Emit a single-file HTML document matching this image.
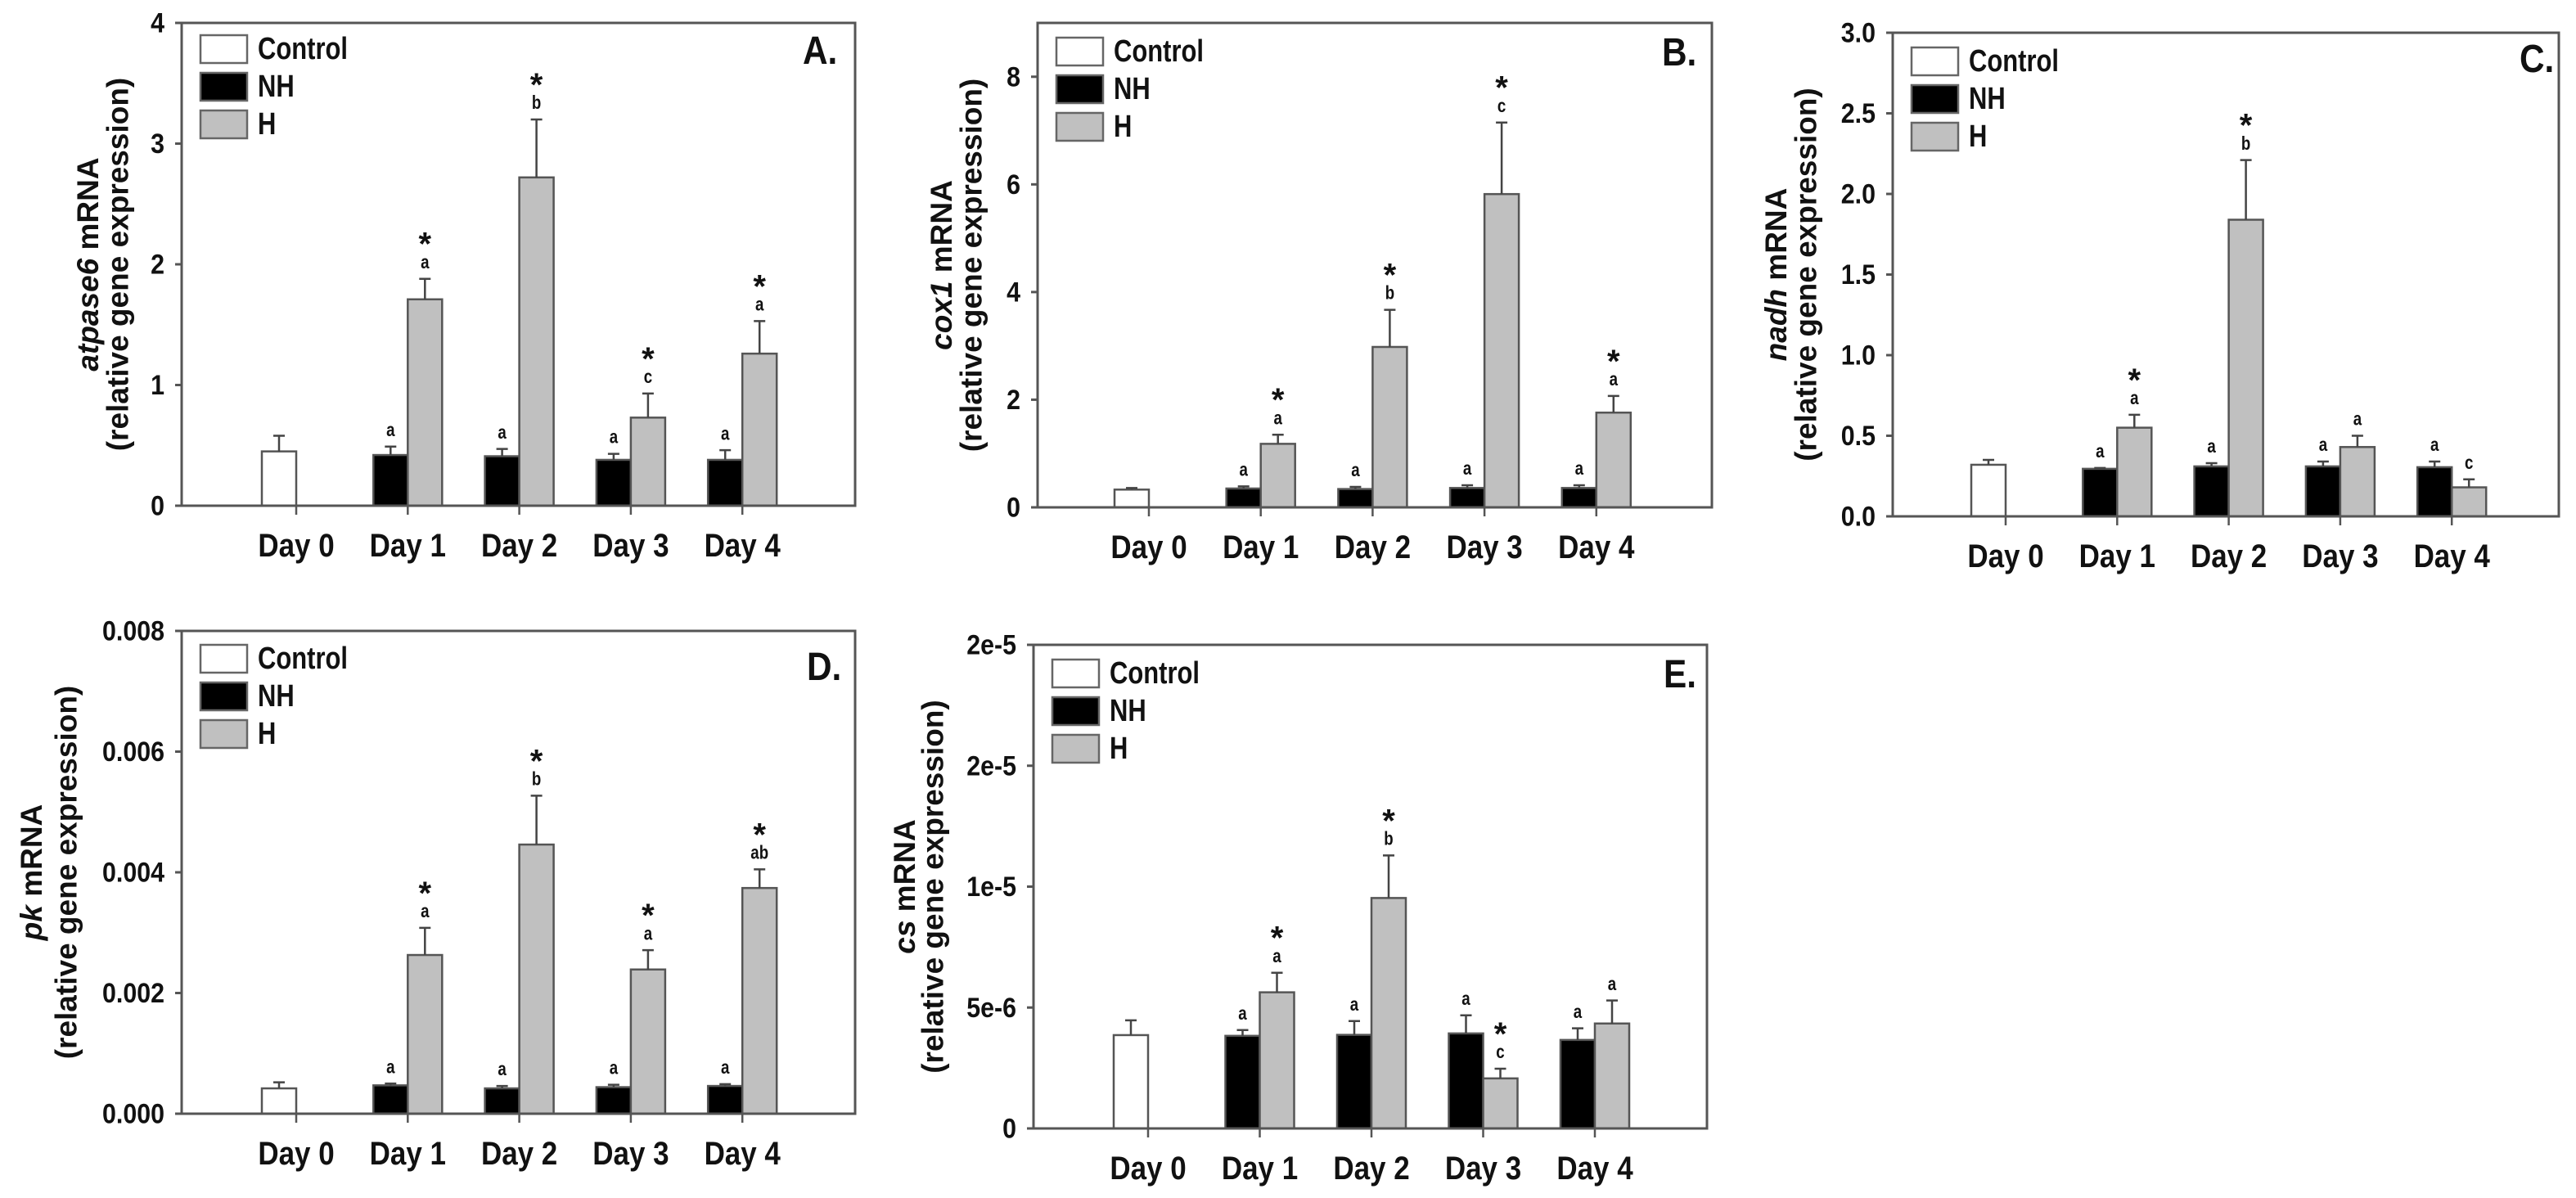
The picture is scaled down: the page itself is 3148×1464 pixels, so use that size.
<!DOCTYPE html>
<html><head><meta charset="utf-8">
<style>
html,body{margin:0;padding:0;background:#fff;}
svg{display:block;}
.nar{font-family:"Liberation Sans",sans-serif;font-weight:bold;}
.wide{font-family:"Liberation Sans",sans-serif;font-weight:bold;}
</style></head>
<body>
<svg id="fig" width="3148" height="1464" viewBox="0 0 3148 1464" xmlns="http://www.w3.org/2000/svg"></svg>
<script>
// ---- data ----
const categories = ["Day 0","Day 1","Day 2","Day 3","Day 4"];
const seriesNames = ["Control","NH","H"];

const aControl = 0.45, aControlErr = 0.58;
const aNH = [0.42,0.41,0.38,0.38], aNHErr = [0.49,0.47,0.43,0.46];
const aH = [1.71,2.72,0.73,1.26], aHErr = [1.88,3.2,0.93,1.53];
const aNHLab = ["a","a","a","a"], aHLab = ["a","b","c","a"], aHStar = [1,1,1,1];
const aTicks = [0,1,2,3,4], aTickLabels = ["0","1","2","3","4"];

const bControl = 0.33, bControlErr = 0.36;
const bNH = [0.35,0.34,0.36,0.36], bNHErr = [0.39,0.38,0.41,0.41];
const bH = [1.18,2.98,5.82,1.76], bHErr = [1.35,3.67,7.15,2.07];
const bNHLab = ["a","a","a","a"], bHLab = ["a","b","c","a"], bHStar = [1,1,1,1];
const bTicks = [0,2,4,6,8], bTickLabels = ["0","2","4","6","8"];

const cControl = 0.32, cControlErr = 0.35;
const cNH = [0.295,0.31,0.31,0.305], cNHErr = [0.30,0.33,0.34,0.34];
const cH = [0.55,1.84,0.43,0.18], cHErr = [0.63,2.21,0.50,0.23];
const cNHLab = ["a","a","a","a"], cHLab = ["a","b","a","c"], cHStar = [1,1,0,0];
const cTicks = [0,0.5,1,1.5,2,2.5,3], cTickLabels = ["0.0","0.5","1.0","1.5","2.0","2.5","3.0"];

const dControl = 0.00042, dControlErr = 0.00052;
const dNH = [0.00047,0.00042,0.00044,0.00046], dNHErr = [0.00050,0.00046,0.00048,0.00049];
const dH = [0.00263,0.00446,0.00239,0.00374], dHErr = [0.00308,0.00527,0.00271,0.00405];
const dNHLab = ["a","a","a","a"], dHLab = ["a","b","a","ab"], dHStar = [1,1,1,1];
const dTicks = [0,0.002,0.004,0.006,0.008], dTickLabels = ["0.000","0.002","0.004","0.006","0.008"];

const eControl = 3.86e-6, eControlErr = 4.47e-6;
const eNH = [3.83e-6,3.87e-6,3.93e-6,3.66e-6], eNHErr = [4.07e-6,4.44e-6,4.68e-6,4.14e-6];
const eH = [5.63e-6,9.53e-6,2.07e-6,4.34e-6], eHErr = [6.44e-6,11.29e-6,2.47e-6,5.29e-6];
const eNHLab = ["a","a","a","a"], eHLab = ["a","b","c","a"], eHStar = [1,1,1,0];
const eTicks = [0,5e-6,10e-6,15e-6,20e-6], eTickLabels = ["0","5e-6","1e-5","2e-5","2e-5"];

// ---- layout (positions, not data) ----
const panels = [
 {id:"a",letter:"A.",gene:"atpase6",left:222,right:1045,top:28,zero:618,ymax:4,cx0:362,step:136.3,t1:115,t2:78,lx:[981,78],
  ctl:aControl,ctlE:aControlErr,nh:aNH,nhE:aNHErr,h:aH,hE:aHErr,nhL:aNHLab,hL:aHLab,st:aHStar,ticks:aTicks,tl:aTickLabels,legTop:43},
 {id:"b",letter:"B.",gene:"cox1",left:1268,right:2092,top:28,zero:620,ymax:9,cx0:1404,step:136.7,t1:118,t2:81,lx:[2031,80],
  ctl:bControl,ctlE:bControlErr,nh:bNH,nhE:bNHErr,h:bH,hE:bHErr,nhL:bNHLab,hL:bHLab,st:bHStar,ticks:bTicks,tl:bTickLabels,legTop:46},
 {id:"c",letter:"C.",gene:"nadh",left:2313,right:3127,top:40,zero:631,ymax:3,cx0:2451,step:136.3,t1:143,t2:106,lx:[3079,88],
  ctl:cControl,ctlE:cControlErr,nh:cNH,nhE:cNHErr,h:cH,hE:cHErr,nhL:cNHLab,hL:cHLab,st:cHStar,ticks:cTicks,tl:cTickLabels,legTop:58},
 {id:"d",letter:"D.",gene:"pk",left:222,right:1045,top:771,zero:1361,ymax:0.008,cx0:362,step:136.3,t1:184,t2:141,lx:[986,831],
  ctl:dControl,ctlE:dControlErr,nh:dNH,nhE:dNHErr,h:dH,hE:dHErr,nhL:dNHLab,hL:dHLab,st:dHStar,ticks:dTicks,tl:dTickLabels,legTop:788},
 {id:"e",letter:"E.",gene:"cs",left:1263,right:2086,top:788,zero:1379,ymax:20e-6,cx0:1403,step:136.5,t1:158,t2:123,lx:[2033,840],
  ctl:eControl,ctlE:eControlErr,nh:eNH,nhE:eNHErr,h:eH,hE:eHErr,nhL:eNHLab,hL:eHLab,st:eHStar,ticks:eTicks,tl:eTickLabels,legTop:806}
];
const NS="http://www.w3.org/2000/svg";
const svg=document.getElementById('fig');
function mk(tag,attrs,parent){const e=document.createElementNS(NS,tag);for(const k in attrs)e.setAttribute(k,attrs[k]);(parent||svg).appendChild(e);return e;}
function ntext(x,y,sx,attrs,parent){attrs.x=0;attrs.y=0;attrs.transform=`translate(${x},${y}) scale(${sx},1.05)`;return mk('text',attrs,parent);}
const BW=42, fills={Control:"#ffffff",NH:"#000000",H:"#c0c0c0"};

panels.forEach(p=>{
  const g=mk('g',{});
  
  
  const y=v=>p.zero-(v/p.ymax)*(p.zero-p.top);
  const x=i=>p.cx0+i*p.step;
  p.ticks.forEach((t,i)=>{
    const ty=y(t);
    const tk=mk('line',{x1:p.left-8,x2:p.left,y1:ty,y2:ty,stroke:"#555","stroke-width":3},g);
    
    
    const tx=ntext(p.left-21,ty,0.92,{"text-anchor":"end","dominant-baseline":"central","font-size":33,class:"nar",fill:"#111"},g);
    tx.textContent=p.tl[i];
    
    
  });
  categories.forEach((c,i)=>{
    const tk=mk('line',{x1:x(i),x2:x(i),y1:p.zero,y2:p.zero+11,stroke:"#555","stroke-width":2.5},g);
    
    
    const t=ntext(x(i),p.zero+62,0.92,{"text-anchor":"middle","font-size":38,class:"nar",fill:"#111"},g);
    t.textContent=c;
    
    
  });
  function bar(bx,v,e,fill,name){
    const r=mk('rect',{x:bx,y:y(v),width:BW,height:p.zero-y(v),fill:fill,stroke:"#555","stroke-width":2.5},g);
    
    
    const cx=bx+BW/2;
    const l=mk('path',{d:`M${cx},${y(v)}V${y(e)}M${cx-7},${y(e)}H${cx+7}`,stroke:"#444","stroke-width":2.5,fill:"none"},g);
    
    
    return cx;
  }
  function ann(cx,e,lab,star){
    const ey=y(e);
    const t=ntext(cx,ey-20,0.85,{"text-anchor":"middle","dominant-baseline":"central","font-size":22,class:"nar",fill:"#111"},g);
    t.textContent=lab;
    
    
    if(star){
      const s=mk('text',{x:cx,y:ey-29,"text-anchor":"middle","font-size":40,class:"wide",fill:"#111"},g);
      s.textContent="*";
      
      
    }
  }
  bar(x(0)-BW,p.ctl,p.ctlE,fills.Control,'bar-control-day0');
  for(let i=0;i<4;i++){
    const c1=bar(x(i+1)-BW,p.nh[i],p.nhE[i],fills.NH,'bar-nh-day'+(i+1));
    ann(c1,p.nhE[i],p.nhL[i],0);
    const c2=bar(x(i+1),p.h[i],p.hE[i],fills.H,'bar-h-day'+(i+1));
    ann(c2,p.hE[i],p.hL[i],p.st[i]);
  }
  const f=mk('rect',{x:p.left,y:p.top,width:p.right-p.left,height:p.zero-p.top,fill:"none",stroke:"#555","stroke-width":3},g);
  
  
  seriesNames.forEach((s,i)=>{
    const ly=p.legTop+i*46;
    const r=mk('rect',{x:p.left+23,y:ly,width:57,height:34,fill:fills[s],stroke:"#666","stroke-width":2.5},g);
    
    
    const t=ntext(p.left+93,ly+17,0.86,{"dominant-baseline":"central","font-size":36,class:"nar",fill:"#111"},g);
    t.textContent=s;
    
    
  });
  const pl=ntext(p.lx[0],p.lx[1],0.92,{"font-size":46,class:"nar",fill:"#111"},g);
  pl.textContent=p.letter;
  
  
  const cy=(p.top+p.zero)/2;
  const t1=mk('text',{x:0,y:0,transform:`translate(${p.left-p.t1},${cy}) rotate(-90)`,"text-anchor":"middle","dominant-baseline":"central","font-size":37,class:"wide",fill:"#111"},g);
  const it=mk('tspan',{"font-style":"italic"},t1); it.textContent=p.gene;
  const rest=mk('tspan',{},t1); rest.textContent=" mRNA";
  
  
  const t2=mk('text',{x:0,y:0,transform:`translate(${p.left-p.t2},${cy}) rotate(-90)`,"text-anchor":"middle","dominant-baseline":"central","font-size":37,class:"wide",fill:"#111","xml:space":"preserve"},g);
  t2.textContent="(relative gene  expression)";
  
  
});
</script>
</body></html>
